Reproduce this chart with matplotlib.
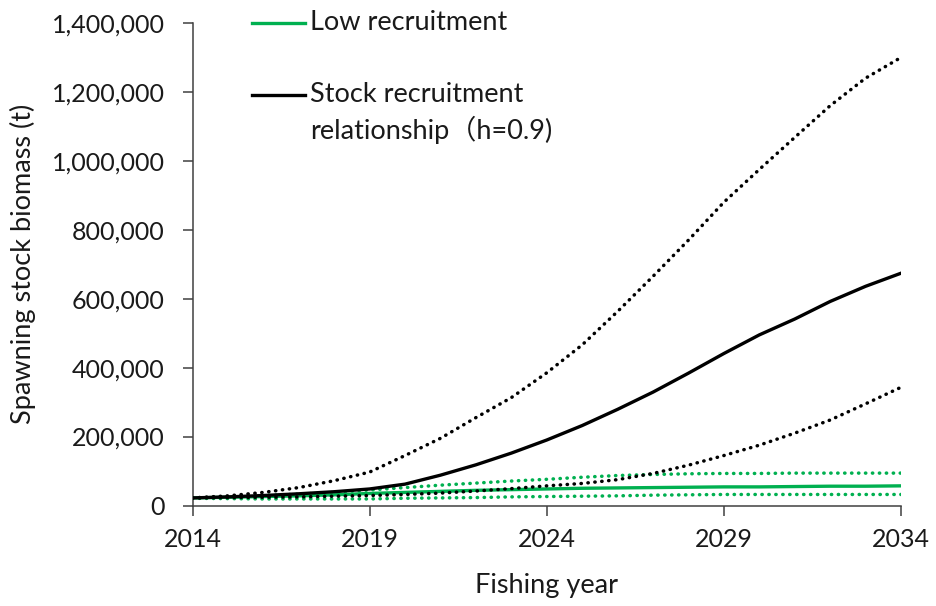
import matplotlib
matplotlib.use("Agg")
import matplotlib.pyplot as plt
from matplotlib.lines import Line2D
from matplotlib.ticker import FuncFormatter, FixedLocator

plt.rcParams['font.family'] = ['Lato', 'Noto Sans CJK JP', 'DejaVu Sans']

years = list(range(2014, 2035))

# Stock recruitment relationship (h=0.9): median, upper and lower bounds
sr_median = [22000, 25000, 29000, 34000, 40000, 48000, 62000, 88000, 118000, 152000,
             190000, 232000, 279000, 329000, 384000, 441000, 495000, 541000, 592000,
             636000, 674000]
sr_upper = [22000, 28000, 38000, 52000, 72000, 97000, 145000, 195000, 255000, 313000,
            385000, 466000, 563000, 665000, 770000, 880000, 975000, 1068000, 1160000,
            1240000, 1300000]
sr_lower = [22000, 23000, 24000, 25000, 27000, 29000, 32000, 36000, 42000, 49000,
            57000, 64000, 75000, 93000, 117000, 145000, 175000, 210000, 248000,
            295000, 343000]

# Low recruitment: median, upper and lower bounds
low_median = [22000, 24000, 26000, 28000, 31000, 35000, 38000, 41000, 44000, 46000,
              48000, 50000, 51000, 52000, 53000, 54000, 54000, 55000, 56000, 56000, 57000]
low_upper = [22000, 25000, 29000, 33000, 38000, 45000, 52000, 59000, 65000, 71000,
             76000, 82000, 87000, 90000, 92000, 93000, 93000, 94000, 94000, 94000, 94000]
low_lower = [21000, 20000, 19000, 19000, 19000, 19000, 21000, 22000, 23000, 25000,
             26000, 27000, 28000, 30000, 31000, 32000, 32000, 32000, 32000, 32000, 32000]

x_ticks = [2014, 2019, 2024, 2029, 2034]
y_ticks = [0, 200000, 400000, 600000, 800000, 1000000, 1200000, 1400000]

label_low = "Low recruitment"
label_sr = ["Stock recruitment", "relationship（h=0.9)"]

GREEN = "#00B050"
BLACK = "#000000"
AXC = "#404040"
TXT = "#1a1a1a"

fig = plt.figure(figsize=(9.36, 6.06), dpi=100)
ax = fig.add_axes([192.5 / 936, 1 - 505.5 / 606, (901 - 192.5) / 936, (505.5 - 23) / 606])

dot = dict(linestyle=(0, (0.1, 1.9)), dash_capstyle='round', lw=2.5)

ax.plot(years, low_upper, color=GREEN, **dot, zorder=2)
ax.plot(years, low_lower, color=GREEN, **dot, zorder=2)
ax.plot(years, low_median, color=GREEN, lw=2.4, zorder=3)
ax.plot(years, sr_upper, color=BLACK, **dot, zorder=4)
ax.plot(years, sr_lower, color=BLACK, **dot, zorder=4)
ax.plot(years, sr_median, color=BLACK, lw=2.4, zorder=5)

ax.set_xlim(2014, 2034)
ax.set_ylim(0, 1400000)
ax.xaxis.set_major_locator(FixedLocator(x_ticks))
ax.yaxis.set_major_locator(FixedLocator(y_ticks))
ax.yaxis.set_major_formatter(FuncFormatter(lambda v, p: f"{int(v):,}"))

for s in ['top', 'right']:
    ax.spines[s].set_visible(False)
for s in ['left', 'bottom']:
    ax.spines[s].set_color(AXC)
    ax.spines[s].set_linewidth(1.1)

ax.tick_params(axis='both', which='major', direction='out', length=7, width=1.1,
               color=AXC, labelsize=18, labelcolor=TXT)
ax.tick_params(axis='y', pad=13)
ax.tick_params(axis='x', pad=9)

ax.set_xlabel("Fishing year", fontsize=19.5, color=TXT, labelpad=16)
ax.set_ylabel("Spawning stock biomass (t)", fontsize=19.5, color=TXT, labelpad=11)

# Legend (manual, mimicking the original layout)
lx0, lx1, tx = 0.084, 0.159, 0.166
ax.add_line(Line2D([lx0, lx1], [1.0, 1.0], transform=ax.transAxes, color=GREEN, lw=2.4,
                   clip_on=False))
ax.text(tx, 1.0, label_low, transform=ax.transAxes, fontsize=19.5, color=TXT,
        va='center', ha='left')
ax.add_line(Line2D([lx0, lx1], [0.851, 0.851], transform=ax.transAxes, color=BLACK, lw=2.4,
                   clip_on=False))
ax.text(tx, 0.851, label_sr[0], transform=ax.transAxes, fontsize=19.5, color=TXT,
        va='center', ha='left')
ax.text(tx, 0.778, label_sr[1], transform=ax.transAxes, fontsize=19.5, color=TXT,
        va='center', ha='left')

fig.savefig("out.png", dpi=100)
